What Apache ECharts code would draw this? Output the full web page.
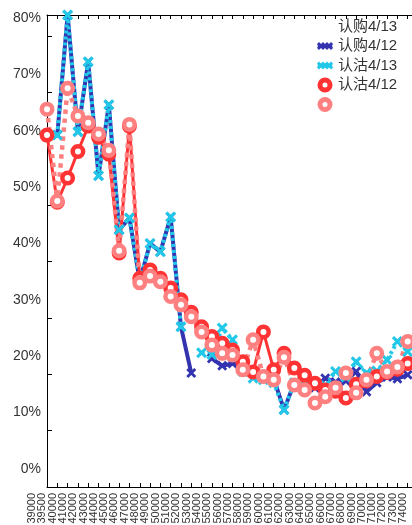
<!DOCTYPE html>
<html>
<head>
<meta charset="utf-8">
<script src="https://cdn.jsdelivr.net/npm/echarts@6/dist/echarts.min.js"></script>
<style type="text/css">
     html,body{
     	margin: 0;
     	padding: 0;
     	background: #fff;
     	overflow: hidden;
     }
     #iv_chart_div{
     	width: 412px;
     	height: 525px;
     }
</style>
</head>
<body>
<div id="iv_chart_div"></div>
<script>
	// 行权价
	var strikes = ['39000','39500','40000','41000','42000','43000','44000','45000','46000','47000',
		'48000','49000','50000','51000','52000','53000','54000','55000','56000','57000',
		'58000','59000','60000','61000','62000','63000','64000','65000','66000','67000',
		'68000','69000','70000','71000','72000','73000','74000'];
	var y_ticks = [0, 10, 20, 30, 40, 50, 60, 70, 80];

	// 深蓝 (认购4/12)
	var blue_vals = [null, 62.4, 83.7, 63, 75.4, 55.2, 67.8, 45.6, 47.7, 36.5, 43.2, 41.7, 47.9, 28.4, 20.2, null,
		22.8, 21.5, 21.9, 21.2, 20.5, 19.8, 19.2, 13.7, 18.5, 17.8, 17.6, 19.3, 18.6, 18.8, 20.5, 16.9,
		18.5, 19.5, 19.2, 19.9, null];
	// 青色 (认沽4/13)
	var cyan_vals = [null, 62.4, 83.7, 63, 75.4, 55.2, 67.8, 45.6, 47.7, 36.5, 43.2, 41.7, 47.9, 28.4, null, 23.8,
		23.5, 28.2, 26.1, 20.5, 19.3, 19, 18.5, 13.7, 18.5, 18, 18.2, 18, 20.5, 19.5, 22.2, 20.2,
		20.6, 22.5, 25.8, 24, null];
	// 红色 (认沽4/12)
	var red_vals = [62.4, 50.5, 54.8, 59.5, 64, 62, 59, 41.5, 64, 37, 38.5, 37, 35.3, 33.2, 31, 28.4,
		26.7, 25.5, 24.3, 22.2, 20.4, 27.5, 20.8, 23.7, 21.1, 19.8, 18.4, 17.2, 17, 15.8, 18.2, 18.8,
		19.6, 20.3, 20.9, 21.9, null];
	// 粉色 (无名)
	var pink_vals = [67.0, 50.7, 70.7, 65.8, 64.6, 62.6, 59.7, 41.9, 64.3, 36.2, 37.4, 36.4, 33.8, 32.3, 30.2, 27.5,
		25.2, 23.7, 23.4, 20.8, 26.1, 19.6, 19.0, 23.0, 18.1, 17.2, 14.9, 16.0, 17.6, 20.2, 16.7, 19.0,
		23.7, 20.5, 21.3, 25.8, null];

	var x_mark = 'path://M0,2 L2,0 L5,3 L8,0 L10,2 L7,5 L10,8 L8,10 L5,7 L2,10 L0,8 L3,5 Z';
	var x_band = 'path://M0,2 L2,0 L4,2 L6,0 L8,2 L10,0 L12,2 L14,0 L16,2 L15,4 L16,6 L14,8 L12,6 L10,8 L8,6 L6,8 L4,6 L2,8 L0,6 L1,4 Z';
	var font = 'Liberation Sans, Arial, Noto Sans CJK SC, sans-serif';

	var option = {
		animation: false,
		grid: {left: 47, top: 15, right: -6, bottom: 38, outerBoundsMode: 'none'},
		legend: {
			orient: 'vertical',
			left: 317,
			top: 19,
			padding: 0,
			itemWidth: 16,
			itemHeight: 10,
			itemGap: 4.5,
			textStyle: {fontSize: 15, color: '#333', fontFamily: font},
			data: [
				{name: '认购4/13', icon: 'none'},
				{name: '认购4/12', icon: x_band, itemStyle: {color: '#3434b0', borderWidth: 0}},
				{name: '认沽4/13', icon: x_band, itemStyle: {color: '#22c8e8', borderWidth: 0}},
				{name: '认沽4/12', icon: 'circle', itemStyle: {color: '#fff', borderColor: '#ff3333', borderWidth: 5}},
				{name: ' ', icon: 'circle', itemStyle: {color: '#fff', borderColor: '#ff8080', borderWidth: 5}}
			]
		},
		xAxis: [
			{
				type: 'category',
				data: strikes,
				boundaryGap: false,
				axisLine: {lineStyle: {color: '#000', width: 1}},
				axisTick: {inside: true, length: 4, interval: 0, lineStyle: {color: '#000'}},
				axisLabel: {
					interval: 0,
					rotate: 90,
					margin: 6,
					fontSize: 11,
					color: '#333',
					fontFamily: font,
					verticalAlign: 'bottom',
					lineHeight: 30
				}
			},
			{
				type: 'category',
				position: 'top',
				data: strikes,
				boundaryGap: false,
				axisLine: {lineStyle: {color: '#000', width: 1}},
				axisTick: {inside: true, length: 4, interval: 0, lineStyle: {color: '#000'}},
				axisLabel: {show: false}
			}
		],
		yAxis: {
			type: 'value',
			min: y_ticks[0],
			max: 83.7,
			interval: 10,
			splitLine: {show: false},
			axisLine: {show: true, lineStyle: {color: '#000', width: 1}},
			axisTick: {show: true, inside: true, length: 5, lineStyle: {color: '#000'}},
			axisLabel: {
				formatter: '{value}%',
				showMaxLabel: false,
				fontSize: 14,
				color: '#333',
				fontFamily: font,
				margin: 6,
				verticalAlign: 'bottom',
				lineHeight: 36
			}
		},
		series: [
			{name: '认购4/13', type: 'line', data: []},
			{
				name: '认购4/12', type: 'line', data: blue_vals,
				symbol: x_mark, symbolSize: 10, showAllSymbol: true,
				itemStyle: {color: '#3434b0'},
				lineStyle: {color: '#3434b0', width: 4},
				emphasis: {disabled: true}
			},
			{
				name: '认沽4/13', type: 'line', data: cyan_vals,
				symbol: x_mark, symbolSize: 11, showAllSymbol: true,
				itemStyle: {color: '#22c8e8'},
				lineStyle: {color: '#22c8e8', width: 4, type: [3, 3]},
				emphasis: {disabled: true}
			},
			{
				name: '认沽4/12', type: 'line', data: red_vals,
				symbol: 'circle', symbolSize: 10.5, showAllSymbol: true,
				itemStyle: {color: '#fff', borderColor: '#ff3333', borderWidth: 4.5},
				lineStyle: {color: '#ff3333', width: 3},
				emphasis: {disabled: true}
			},
			{
				name: ' ', type: 'line', data: pink_vals,
				symbol: 'circle', symbolSize: 10.5, showAllSymbol: true,
				itemStyle: {color: '#fff', borderColor: '#ff8080', borderWidth: 4.5},
				lineStyle: {color: '#ff8080', width: 4.5, type: [4.5, 4.5]},
				emphasis: {disabled: true}
			}
		]
	};
	var iv_chart = echarts.init(document.getElementById('iv_chart_div'));
	iv_chart.setOption(option);
</script>
</body>
</html>
